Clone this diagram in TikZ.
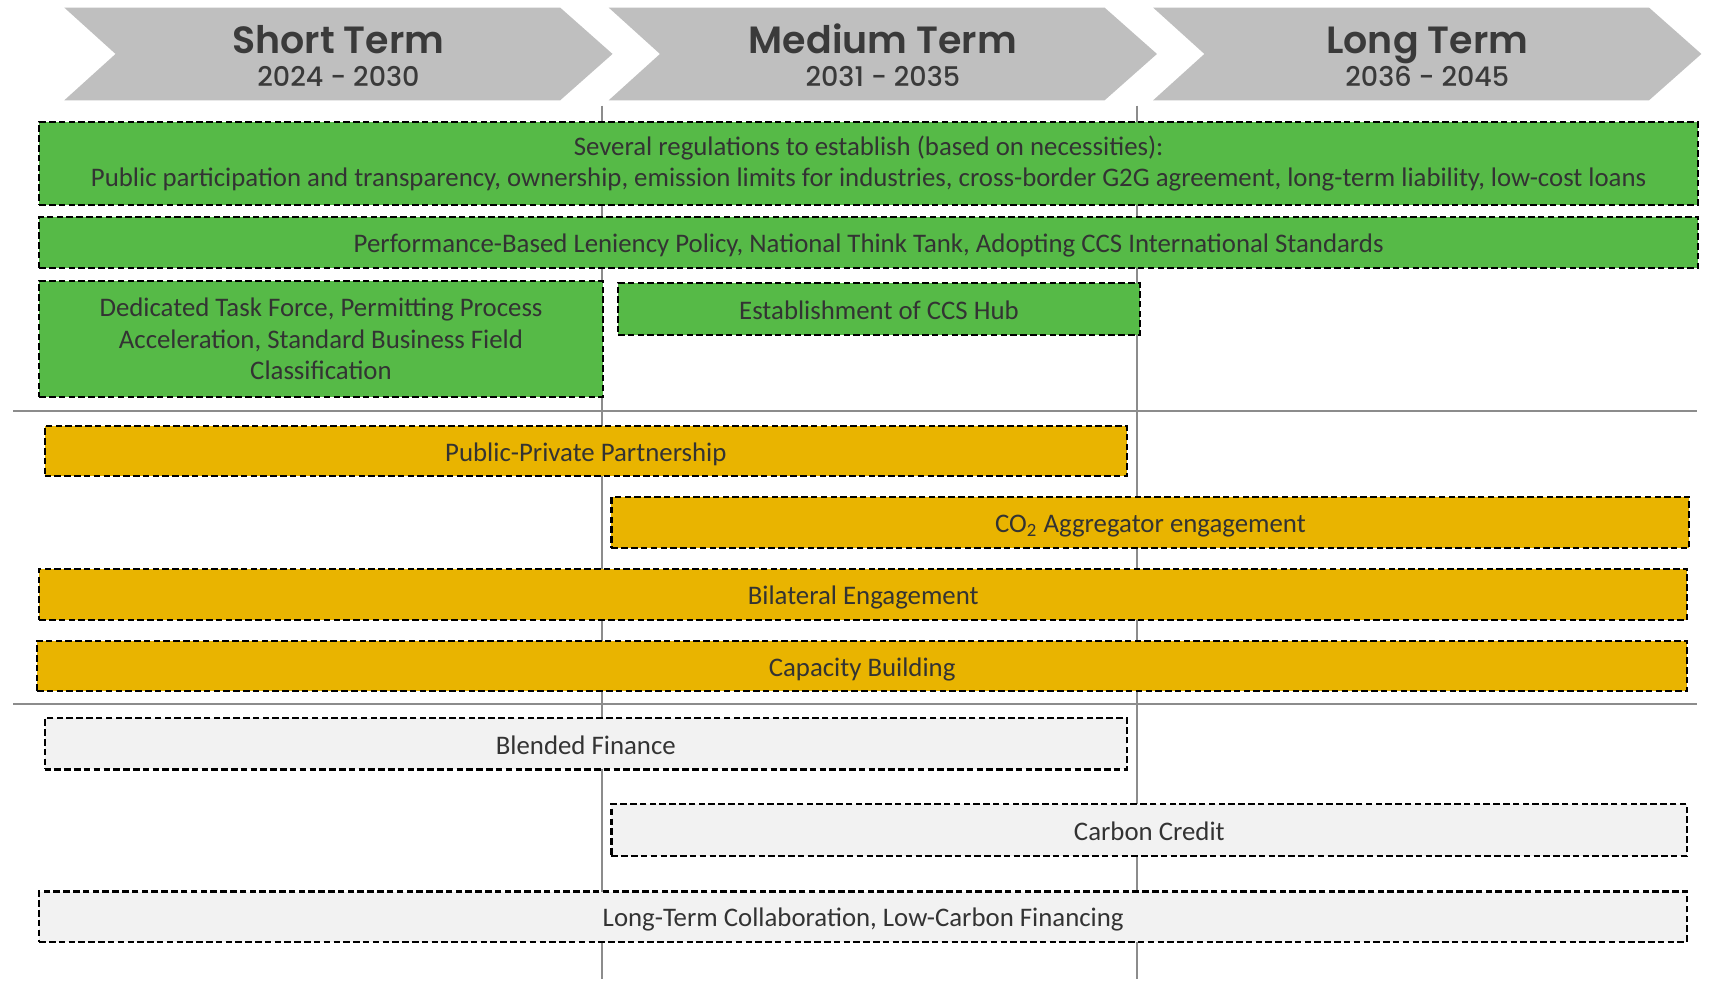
\documentclass[tikz,border=0pt]{standalone}
\usepackage{fontspec}
\setmainfont{Carlito}
\newfontfamily\titlefont{Poppins SemiBold}
\newfontfamily\yearfont{Poppins Medium}
\definecolor{chev}{HTML}{BFBFBF}
\definecolor{grn}{HTML}{56BA47}
\definecolor{gold}{HTML}{E9B400}
\definecolor{lgray}{HTML}{F2F2F2}
\definecolor{rulec}{HTML}{8C8C8C}
\definecolor{txt}{HTML}{333333}
\definecolor{htxt}{HTML}{3A3A3A}
\begin{document}
\begin{tikzpicture}[x=0.5pt,y=-0.5pt,
  bar/.style={draw=black, line width=1pt, dash pattern=on 3pt off 1.5pt, inner sep=0pt,
    text=txt, font=\fontsize{12.3}{14.5}\selectfont, align=center},
  oneline/.style={text height=9.5pt, text depth=0pt},
  gbar/.style={bar, fill=grn},
  ybar/.style={bar, fill=gold, oneline},
  lbar/.style={bar, fill=lgray, oneline},
  chevron/.style={fill=chev},
  title/.style={text=htxt, font=\titlefont\fontsize{17.4}{20}\selectfont, inner sep=0pt, anchor=base},
  years/.style={text=htxt, font=\yearfont\fontsize{12.4}{15}\selectfont, inner sep=0pt, anchor=base},
  rulel/.style={draw=rulec, line width=1pt}
]
\useasboundingbox (0,0) rectangle (1568,900);
% chevrons
\foreach \o/\t/\y/\n in {0/Short Term/2024 - 2030/s, 499.5/Medium Term/2031 - 2035/m, 999/Long Term/2036 - 2045/l}{
  \fill[chevron] (59+\o,7) -- (514+\o,7) -- (562+\o,49.5) -- (514+\o,92) -- (59+\o,92) -- (106+\o,49.5) -- cycle;
  \node[title] (t\n) at (310.5+\o,49) {\t};
  \node[years] (y\n) at (310.5+\o,79) {\y};
}
% grid lines
\coordinate (v1t) at (552,97);  \coordinate (v1b) at (552,898);
\coordinate (v2t) at (1043,97); \coordinate (v2b) at (1043,898);
\coordinate (h1l) at (12,377);  \coordinate (h1r) at (1557,377);
\coordinate (h2l) at (12,646);  \coordinate (h2r) at (1557,646);
\draw[rulel] (v1t) -- (v1b);
\draw[rulel] (v2t) -- (v2b);
\draw[rulel] (h1l) -- (h1r);
\draw[rulel] (h2l) -- (h2r);
% green
\node[gbar, minimum width=761pt, minimum height=38pt] (reg) at (797,150)
  {Several regulations to establish (based on necessities):\\
   Public participation and transparency, ownership, emission limits for industries, cross-border G2G agreement, long-term liability, low-cost loans};
\node[gbar, oneline, minimum width=761pt, minimum height=23.5pt] (perf) at (797,222.5)
  {Performance-Based Leniency Policy, National Think Tank, Adopting CCS International Standards};
\node[gbar, minimum width=258.5pt, minimum height=53pt] (ded) at (294.5,311)
  {Dedicated Task Force, Permitting Process\\ Acceleration, Standard Business Field\\ Classification};
\node[gbar, oneline, minimum width=239.5pt, minimum height=23.5pt] (hub) at (806.5,283.5)
  {Establishment of CCS Hub};
% gold
\node[ybar, minimum width=496.5pt, minimum height=23pt] (ppp) at (537.5,414)
  {Public-Private Partnership};
\node[ybar, minimum width=494.5pt, minimum height=23.5pt] (co2) at (1055.5,479.5)
  {CO\textsubscript{2} Aggregator engagement};
\node[ybar, minimum width=756pt, minimum height=23.5pt] (bil) at (792,545.5)
  {Bilateral Engagement};
\node[ybar, minimum width=757pt, minimum height=23pt] (cap) at (791,611)
  {Capacity Building};
% light gray
\node[lbar, minimum width=496.5pt, minimum height=23.5pt] (blend) at (537.5,682.5)
  {Blended Finance};
\node[lbar, minimum width=493.5pt, minimum height=23.5pt] (cc) at (1054.5,761.5)
  {Carbon Credit};
\node[lbar, minimum width=756pt, minimum height=23pt] (ltc) at (792,841)
  {Long-Term Collaboration, Low-Carbon Financing};
\end{tikzpicture}
\end{document}
